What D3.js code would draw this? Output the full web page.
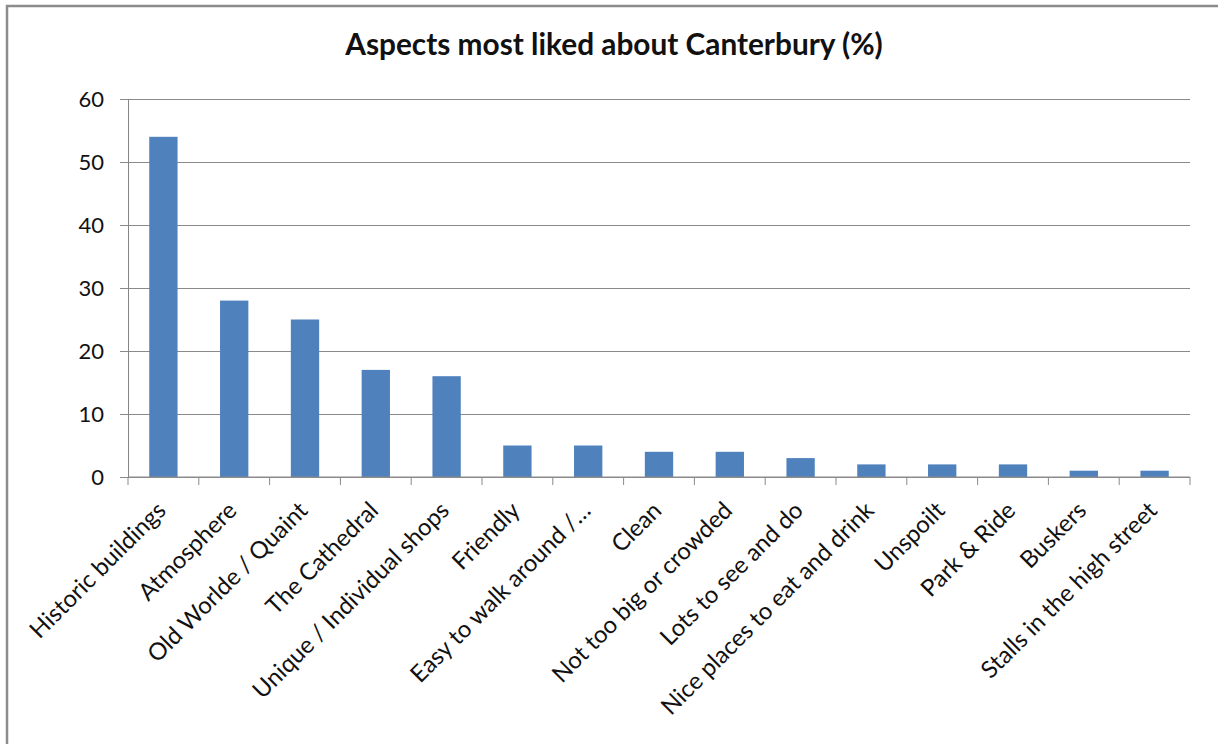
<!DOCTYPE html>
<html>
<head>
<meta charset="utf-8">
<script src="https://cdn.jsdelivr.net/npm/d3@7"></script>
<style>
  html, body { margin: 0; padding: 0; background: #fff; }
  svg { display: block; }
  text { font-family: Lato, "Open Sans", sans-serif; fill: #111; }
</style>
</head>
<body>
<svg id="chart" width="1218" height="744"></svg>
<script>
// Survey results: share of respondents naming each aspect
const categories = [
  "Historic buildings", "Atmosphere", "Old Worlde / Quaint", "The Cathedral",
  "Unique / Individual shops", "Friendly", "Easy to walk around /…", "Clean",
  "Not too big or crowded", "Lots to see and do", "Nice places to eat and drink",
  "Unspoilt", "Park & Ride", "Buskers", "Stalls in the high street"
];
const values = [54, 28, 25, 17, 16, 5, 5, 4, 4, 3, 2, 2, 2, 1, 1];
const yTicks = [0, 10, 20, 30, 40, 50, 60];
const title = "Aspects most liked about Canterbury (%)";

const svg = d3.select("#chart");
const W = 1218, H = 744;
const plot = { left: 128, right: 1190, top: 99, bottom: 477 };

// Outer chart frame (top and left edges visible)
svg.append("path")
  .attr("d", `M7,${H} L7,6 L${W},6`)
  .attr("fill", "none")
  .attr("stroke", "#8c8c8c")
  .attr("stroke-width", 2.5);

svg.append("text")
  .attr("x", 614).attr("y", 55)
  .attr("text-anchor", "middle")
  .attr("font-size", 29.8)
  .attr("font-weight", "bold")
  .text(title);

const x = d3.scaleBand().domain(categories)
  .range([plot.left, plot.right]).paddingInner(0.6).paddingOuter(0.3);
const xb = d3.scaleBand().domain(categories).range([plot.left, plot.right]);
const y = d3.scaleLinear().domain([0, 60]).range([plot.bottom, plot.top]);

// Horizontal gridlines with small tick stubs on the left
const yAxis = d3.axisLeft(y).tickValues(yTicks)
  .tickSize(-(plot.right - plot.left)).tickPadding(24).tickSizeOuter(0);
const gy = svg.append("g").attr("transform", `translate(${plot.left},0)`).call(yAxis);
gy.select(".domain").attr("stroke", "#868686");
gy.selectAll(".tick line").attr("stroke", "#8a8a8a").attr("x1", -8);
gy.selectAll(".tick text").attr("font-size", 22).attr("fill", "#222")
  .attr("font-family", "Lato, 'Open Sans', sans-serif");

// Bars
svg.append("g").selectAll("rect")
  .data(values)
  .join("rect")
  .attr("x", (d, i) => x(categories[i]))
  .attr("y", d => y(d))
  .attr("width", x.bandwidth())
  .attr("height", d => y(0) - y(d))
  .attr("fill", "#4f81bd");

// Category axis: tick marks at band boundaries
const bounds = categories.map(c => xb(c)).concat([plot.right]);
svg.append("g").selectAll("line")
  .data(bounds)
  .join("line")
  .attr("x1", d => d).attr("x2", d => d)
  .attr("y1", plot.bottom).attr("y2", plot.bottom + 8)
  .attr("stroke", "#8a8a8a");
svg.append("line")
  .attr("x1", plot.left).attr("x2", plot.right)
  .attr("y1", plot.bottom).attr("y2", plot.bottom)
  .attr("stroke", "#8a8a8a");

// Rotated category labels, right end under each category
svg.append("g").selectAll("text")
  .data(categories)
  .join("text")
  .attr("transform", c => `translate(${xb(c) + xb.bandwidth() / 2 + 4},${plot.bottom + 35}) rotate(-45)`)
  .attr("text-anchor", "end")
  .attr("font-size", 23.8)
  .text(c => c);
</script>
</body>
</html>
